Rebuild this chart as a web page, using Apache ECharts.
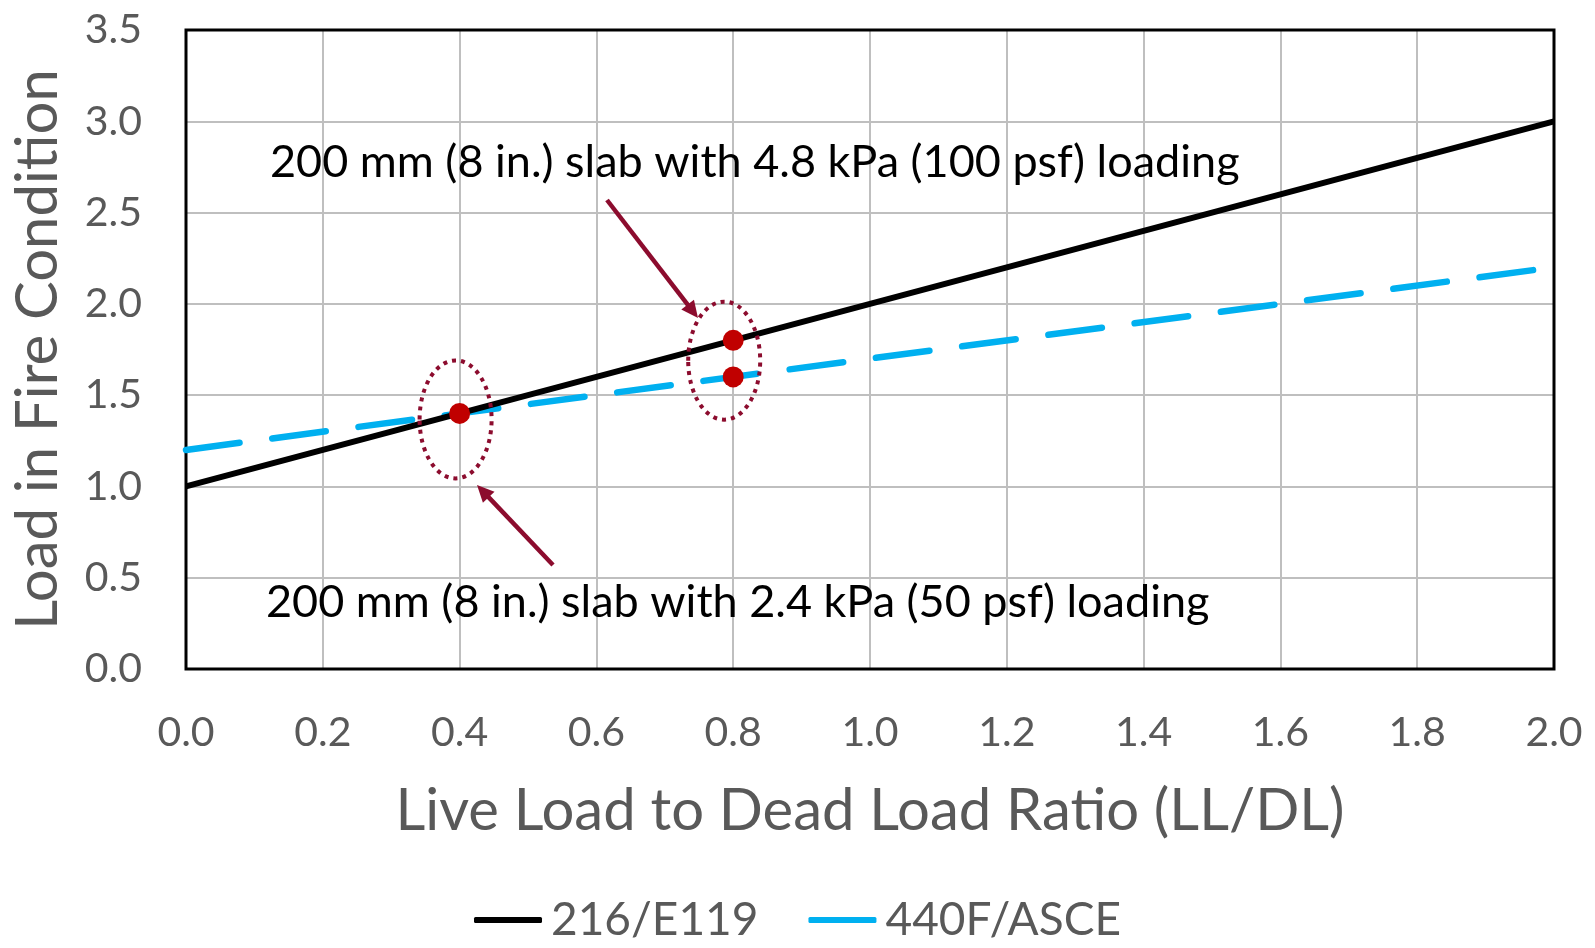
<!DOCTYPE html>
<html>
<head>
<meta charset="utf-8">
<script src="https://cdn.jsdelivr.net/npm/echarts@6/dist/echarts.min.js"></script>
<style>
html, body { margin: 0; padding: 0; background: #fff; }
#chart { width: 1595px; height: 948px; }
</style>
</head>
<body>
<div id="chart"></div>
<script>
// live load / dead load ratio at the two ends of each line
const ratioEnds = [0, 2]
const e119Loads = [1.0, 3.0]
const asceLoads = [1.2, 2.2]
const seriesNames = ['216/E119', '440F/ASCE']
// marked slab cases: [ratio, load]
const slab50psf = [[0.4, 1.4]]
const slab100psf = [[0.8, 1.8], [0.8, 1.6]]
const note100 = '200 mm (8 in.) slab with 4.8 kPa (100 psf) loading'
const note50 = '200 mm (8 in.) slab with 2.4 kPa (50 psf) loading'

const FONT = 'Lato'
const GREY = '#595959'
const MAROON = '#8c0c2e'

const chart = echarts.init(document.getElementById('chart'))

chart.setOption({
  animation: false,
  grid: { left: 186, right: 41, top: 30, bottom: 279, outerBoundsMode: 'none' },
  legend: {
    top: 892,
    left: 'center',
    icon: 'roundRect',
    itemWidth: 68,
    itemHeight: 6,
    itemGap: 50,
    textStyle: { fontSize: 46, color: GREY, fontFamily: FONT, padding: [0, 0, 0, 4] },
    data: seriesNames
  },
  xAxis: {
    type: 'value',
    min: 0,
    max: 2,
    interval: 0.2,
    name: 'Live Load to Dead Load Ratio (LL/DL)',
    nameLocation: 'middle',
    nameGap: 113,
    nameTextStyle: { fontSize: 58, color: GREY, fontFamily: FONT },
    axisLine: { lineStyle: { color: '#000', width: 2 } },
    axisTick: { show: false },
    axisLabel: { fontSize: 41, color: GREY, fontFamily: FONT, margin: 43, formatter: v => v.toFixed(1) },
    splitLine: { lineStyle: { color: '#bfbfbf', width: 2 } }
  },
  yAxis: {
    type: 'value',
    min: 0,
    max: 3.5,
    interval: 0.5,
    name: 'Load in Fire Condition',
    nameLocation: 'middle',
    nameRotate: 90,
    nameGap: 119,
    nameTextStyle: { fontSize: 58, color: GREY, fontFamily: FONT },
    axisLine: { show: true, lineStyle: { color: '#000', width: 2 } },
    axisTick: { show: false },
    axisLabel: { fontSize: 41, color: GREY, fontFamily: FONT, margin: 44, formatter: v => v.toFixed(1) },
    splitLine: { lineStyle: { color: '#bfbfbf', width: 2 } }
  },
  series: [{
    name: seriesNames[0],
    type: 'line',
    symbol: 'none',
    data: ratioEnds.map((x, i) => [x, e119Loads[i]]),
    itemStyle: { color: '#000' },
    lineStyle: { color: '#000', width: 6 },
    z: 3
  }, {
    name: seriesNames[1],
    type: 'line',
    symbol: 'none',
    data: ratioEnds.map((x, i) => [x, asceLoads[i]]),
    itemStyle: { color: '#00b0f0' },
    lineStyle: { color: '#00b0f0', width: 6.5, type: [54, 33], cap: 'round' },
    z: 2
  }, {
    type: 'scatter',
    symbolSize: 21,
    data: slab50psf.concat(slab100psf),
    itemStyle: { color: '#c00000', opacity: 1 },
    z: 5
  }]
})

// annotations: dotted ellipses round the marked points, arrows and notes
function arrow(x1, y1, x2, y2) {
  const len = Math.hypot(x2 - x1, y2 - y1)
  const ux = (x2 - x1) / len
  const uy = (y2 - y1) / len
  const bx = x2 - ux * 17
  const by = y2 - uy * 17
  const style = { stroke: MAROON, lineWidth: 4.5 }
  return [{
    type: 'line', z: 10,
    shape: { x1: x1, y1: y1, x2: bx + ux * 2, y2: by + uy * 2 },
    style: style
  }, {
    type: 'polygon', z: 10,
    shape: { points: [[x2, y2], [bx - uy * 8, by + ux * 8], [bx + uy * 8, by - ux * 8]] },
    style: { fill: MAROON }
  }]
}

const p1 = chart.convertToPixel({ gridIndex: 0 }, slab50psf[0])
const p2a = chart.convertToPixel({ gridIndex: 0 }, slab100psf[0])
const p2b = chart.convertToPixel({ gridIndex: 0 }, slab100psf[1])
const tl = chart.convertToPixel({ gridIndex: 0 }, [0, 3.5])
const br = chart.convertToPixel({ gridIndex: 0 }, [2, 0])
const dotted = { fill: 'none', stroke: MAROON, lineWidth: 4, lineDash: [4, 5] }

chart.setOption({
  graphic: [{
    type: 'rect', z: 1, silent: true,
    shape: { x: tl[0], y: tl[1], width: br[0] - tl[0], height: br[1] - tl[1] },
    style: { fill: 'none', stroke: '#000', lineWidth: 3 }
  }, {
    type: 'ellipse', z: 10,
    shape: { cx: p1[0] - 4, cy: p1[1] + 6, rx: 36, ry: 59 },
    style: dotted
  }, {
    type: 'ellipse', z: 10,
    shape: { cx: p2a[0] - 9, cy: (p2a[1] + p2b[1]) / 2 + 2, rx: 36, ry: 59 },
    style: dotted
  }].concat(arrow(607, 200, 698, 318), arrow(553, 565, 477, 485), [{
    type: 'text', z: 10,
    style: { text: note100, x: 270, y: 162, verticalAlign: 'middle', font: '45px ' + FONT, fill: '#000' }
  }, {
    type: 'text', z: 10,
    style: { text: note50, x: 266, y: 602, verticalAlign: 'middle', font: '45px ' + FONT, fill: '#000' }
  }])
})
</script>
</body>
</html>
